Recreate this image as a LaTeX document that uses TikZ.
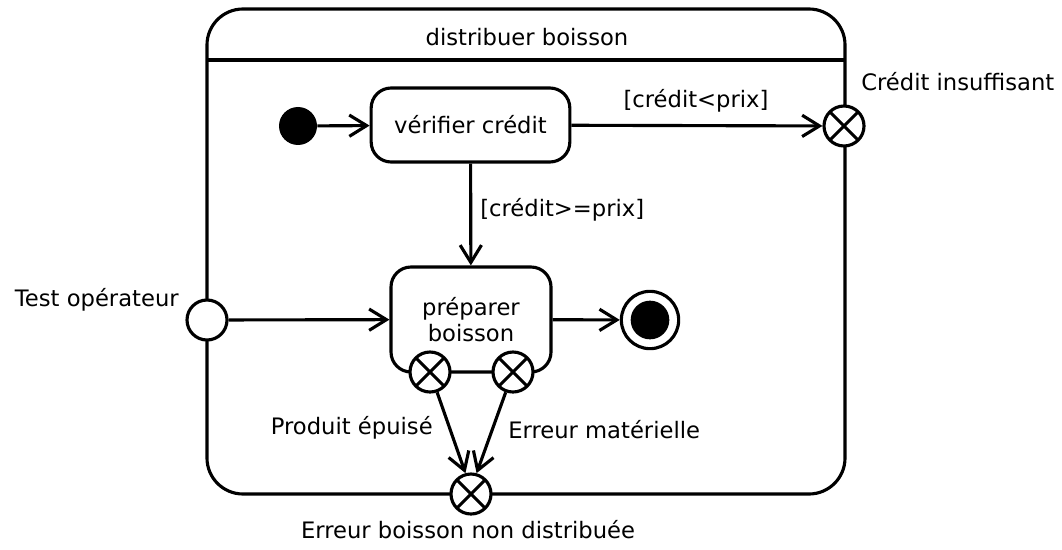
\documentclass[tikz,border=0pt]{standalone}
\usepackage{fontspec}
\setmainfont{DejaVu Sans}
\usetikzlibrary{arrows.meta}
\begin{document}
\begin{tikzpicture}[x=0.75pt,y=-0.75pt,
  lw/.style={line width=2.35pt},
  every node/.style={font=\fontsize{17}{22}\selectfont, inner sep=0pt},
  arr/.style={lw, -{Straight Barb[length=13pt,width=16pt]}},
  statebox/.style={lw, draw, rounded corners=15pt, fill=white, align=center},
  xpt/.style={lw, draw, circle, fill=white, minimum size=30pt,
    path picture={\draw[lw] (path picture bounding box.south west) -- (path picture bounding box.north east)
      (path picture bounding box.north west) -- (path picture bounding box.south east);}},
  ept/.style={lw, draw, circle, fill=white, minimum size=30pt},
  lbl/.style={text=black}
]
\useasboundingbox (0,0) rectangle (1062,549);
% container
\node[lw, draw, rounded corners=27pt, minimum width=478.5pt, minimum height=363.75pt] (cont) at (526,251.5) {};
\coordinate (sepl) at (207,60);
\coordinate (sepr) at (845,60);
\draw[lw] (sepl) -- (sepr);
\node[lbl] (title) at (527,37) {distribuer boisson};
% states
\node[circle, fill=black, minimum size=28.5pt] (init) at (298,126) {};
\node[statebox, minimum width=149pt, minimum height=55.5pt] (ver) at (470.5,125) {vérifier crédit};
\node[statebox, minimum width=120pt, minimum height=78.75pt] (prep) at (471,319.5) {préparer\\[-2pt]boisson};
\node[circle, lw, draw, fill=white, minimum size=43pt] (fin) at (650,320) {};
\node[circle, fill=black, minimum size=29pt] (fincore) at (fin) {};
% entry / exit points
\node[xpt] (cins) at (844,126) {};
\node[ept] (topr) at (207,320) {};
\node[xpt] (ex1) at (430,372) {};
\node[xpt] (ex2) at (513,372) {};
\node[xpt] (exb) at (471,494) {};
% labels
\node[lbl, anchor=west] (cinsl) at (861,82) {Crédit insuffisant};
\node[lbl, anchor=east] (topl) at (179,300) {Test opérateur};
\node[lbl, anchor=east] (ex1l) at (433,428) {Produit épuisé};
\node[lbl, anchor=west] (ex2l) at (508,430) {Erreur matérielle};
\node[lbl] (exbl) at (468,530) {Erreur boisson non distribuée};
% transitions
\draw[arr] (init) -- (ver);
\draw[arr] (ver) -- (cins);
\node[lbl] (g1) at (696,101) {[crédit<prix]};
\draw[arr] (ver) -- (prep);
\node[lbl, anchor=west] (g2) at (480,210) {[crédit>=prix]};
\draw[arr] (topr) -- (prep);
\draw[arr] (prep) -- (fin);
\draw[arr] (ex1) -- (exb.105);
\draw[arr] (ex2) -- (exb.75);
\end{tikzpicture}
\end{document}
